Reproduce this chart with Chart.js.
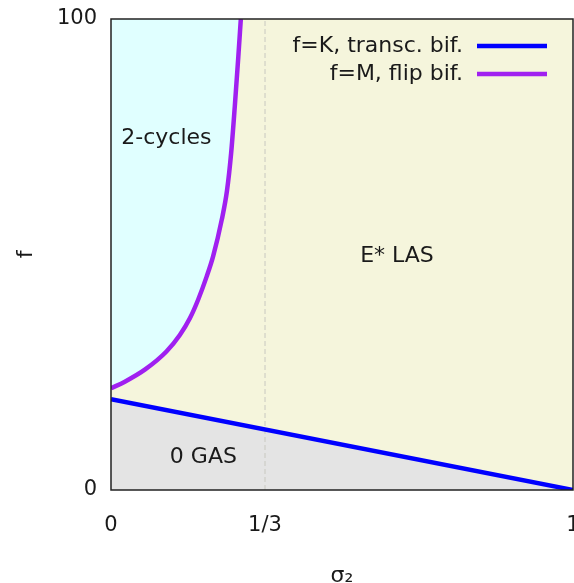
<!DOCTYPE html>
<html>
<head>
<meta charset="utf-8">
<script src="https://cdn.jsdelivr.net/npm/chart.js@4.4.1/dist/chart.umd.min.js"></script>
<style>
  html, body { margin: 0; padding: 0; background: #ffffff; }
  #wrap { width: 574px; height: 583px; position: relative; }
</style>
</head>
<body>
<div id="wrap"><canvas id="c" width="574" height="583"></canvas></div>
<script>
// ---- data ----
const xTickValues = [0, 1/3, 1];
const xTickLabels = ['0', '1/3', '1'];
const yTickValues = [0, 100];
const yTickLabels = ['0', '100'];

// f = K, transcritical bifurcation
const kSigma = [0, 1];
const kF = [19.3, 0];

// f = M, flip bifurcation
const mSigma = [0, 0.03, 0.074, 0.12, 0.149, 0.171, 0.189, 0.207, 0.221, 0.240, 0.251, 0.260, 0.268, 0.2756, 0.281];
const mF = [21.6, 23.0, 25.6, 29.4, 32.9, 36.5, 40.5, 45.3, 49.6, 57.5, 63.5, 71.5, 81.5, 92.0, 100];

// dashed guide at sigma2 = 1/3
const guideSigma = [1/3, 1/3];
const guideF = [0, 100];

const seriesNames = ['f=K, transc. bif.', 'f=M, flip bif.'];
const regionNames = ['2-cycles', 'E* LAS', '0 GAS'];
const regionSigma = [0.12, 0.619, 0.2];
const regionF = [74.6, 49.6, 6.9];

const FONT = '"DejaVu Sans", Verdana, sans-serif';
const TXT = '#1a1a1a';
const BLUE = '#0000ff';
const PURPLE = '#a020f0';

const pts = (xs, ys) => xs.map((x, i) => ({x: x, y: ys[i]}));

const bgPlugin = {
  id: 'bg',
  beforeDraw(chart) {
    const {ctx, chartArea: a} = chart;
    ctx.save();
    ctx.fillStyle = '#f5f5dc';
    ctx.fillRect(a.left, a.top, a.right - a.left, a.bottom - a.top);
    ctx.restore();
  }
};

const overlayPlugin = {
  id: 'overlay',
  afterDraw(chart) {
    const {ctx, chartArea: a, scales} = chart;
    ctx.save();
    // frame
    ctx.strokeStyle = '#222';
    ctx.lineWidth = 1.5;
    ctx.strokeRect(a.left, a.top, a.right - a.left, a.bottom - a.top);
    // region labels
    ctx.font = '22px ' + FONT;
    ctx.fillStyle = TXT;
    ctx.textAlign = 'center';
    ctx.textBaseline = 'middle';
    regionNames.forEach((t, i) => {
      ctx.fillText(t, scales.x.getPixelForValue(regionSigma[i]), scales.y.getPixelForValue(regionF[i]));
    });
    // legend
    const ds = chart.data.datasets;
    const rowsY = [a.top + 27, a.top + 55];
    const textRight = 463, lx0 = 477, lx1 = 547;
    ctx.textAlign = 'right';
    [0, 1].forEach(i => {
      ctx.fillStyle = TXT;
      ctx.fillText(seriesNames[i], textRight, rowsY[i]);
      ctx.strokeStyle = ds[i].borderColor;
      ctx.lineWidth = 4.5;
      ctx.beginPath();
      ctx.moveTo(lx0, rowsY[i]);
      ctx.lineTo(lx1, rowsY[i]);
      ctx.stroke();
    });
    ctx.restore();
  }
};

new Chart(document.getElementById('c'), {
  type: 'line',
  data: {
    datasets: [
      {
        label: seriesNames[0],
        data: pts(kSigma, kF),
        borderColor: BLUE,
        borderWidth: 4.5,
        pointRadius: 0,
        fill: 'start',
        backgroundColor: '#e4e4e4'
      },
      {
        label: seriesNames[1],
        data: pts(mSigma, mF),
        borderColor: PURPLE,
        borderWidth: 4.5,
        pointRadius: 0,
        cubicInterpolationMode: 'monotone',
        fill: 'end',
        backgroundColor: '#e0ffff'
      },
      {
        label: 'guide',
        data: pts(guideSigma, guideF),
        borderColor: '#c8c8c0',
        borderWidth: 1,
        borderDash: [5, 3],
        pointRadius: 0,
        fill: false
      }
    ]
  },
  options: {
    responsive: false,
    animation: false,
    layout: { padding: { top: 19, right: 1, left: 0, bottom: 0 } },
    plugins: {
      legend: { display: false },
      tooltip: { enabled: false },
      filler: { drawTime: 'beforeDatasetsDraw' }
    },
    scales: {
      x: {
        type: 'linear',
        min: 0, max: 1,
        grid: { display: false, drawTicks: false },
        border: { display: false },
        afterBuildTicks: s => { s.ticks = xTickValues.map(v => ({value: v})); },
        afterFit: s => { s.paddingRight = 0; s.paddingLeft = 0; s.height = 93; },
        ticks: {
          padding: 23,
          maxRotation: 0,
          autoSkip: false,
          color: TXT,
          font: { family: FONT, size: 21 },
          callback: (v) => {
            const i = xTickValues.findIndex(t => Math.abs(t - v) < 1e-9);
            return i >= 0 ? xTickLabels[i] : '';
          }
        },
        title: {
          display: true,
          text: 'σ₂',
          color: TXT,
          font: { family: FONT, size: 22 },
          padding: { top: 0, bottom: -6 }
        }
      },
      y: {
        type: 'linear',
        min: 0, max: 100,
        grid: { display: false, drawTicks: false },
        border: { display: false },
        afterBuildTicks: s => { s.ticks = yTickValues.map(v => ({value: v})); },
        afterFit: s => { s.width = 111; s.paddingTop = 0; s.paddingBottom = 0; },
        ticks: {
          padding: 14,
          autoSkip: false,
          color: TXT,
          font: { family: FONT, size: 21 },
          callback: (v) => {
            const i = yTickValues.indexOf(v);
            return i >= 0 ? yTickLabels[i] : '';
          }
        },
        title: {
          display: true,
          text: 'f',
          color: TXT,
          font: { family: FONT, size: 22 },
          padding: { top: 13, bottom: 0 }
        }
      }
    }
  },
  plugins: [bgPlugin, overlayPlugin]
});
</script>
</body>
</html>
